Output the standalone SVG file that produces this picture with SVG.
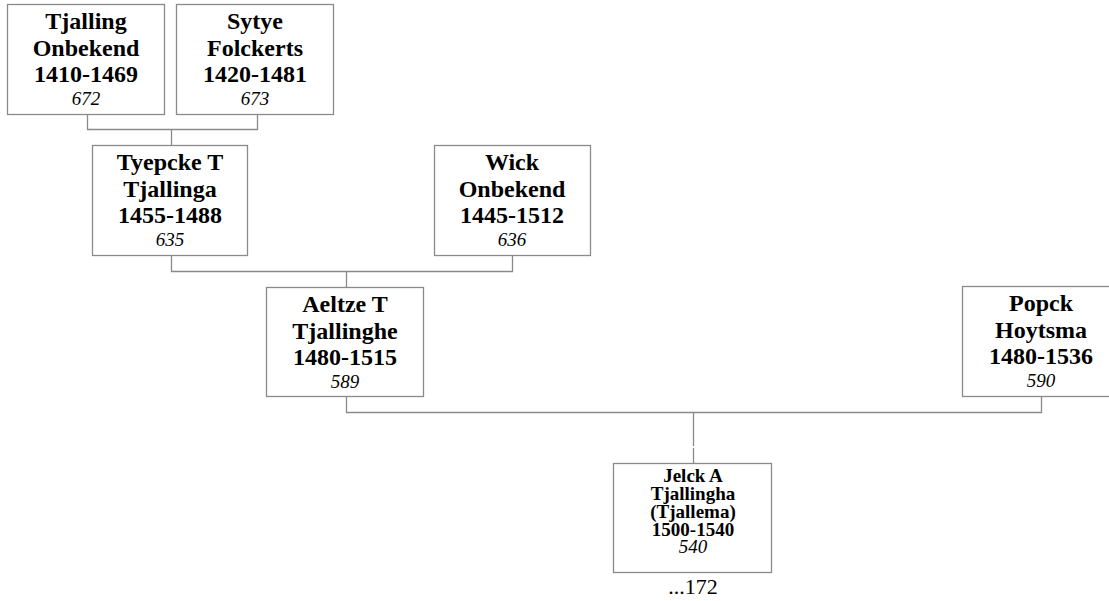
<svg xmlns="http://www.w3.org/2000/svg" width="1109" height="601" viewBox="0 0 1109 601">
<style>
.box{fill:#fff;stroke:#8a8a8a;stroke-width:1.3}
.n{font-family:"Liberation Serif",serif;font-weight:bold;font-size:24px;text-anchor:middle;fill:#000}
.i{font-family:"Liberation Serif",serif;font-style:italic;font-size:19px;text-anchor:middle;fill:#000}
.s{font-family:"Liberation Serif",serif;font-weight:bold;font-size:19px;text-anchor:middle;fill:#000}
.c{fill:none;stroke:#8a8a8a;stroke-width:1.3}
</style>
<rect width="1109" height="601" fill="#fff"/>
<g id="connectors">
<path class="c" d="M87.5 114 V129.5 H257.5 V114"/>
<path class="c" d="M171.5 129.5 V145"/>
<path class="c" d="M171.5 255 V271.5 H512.5 V255"/>
<path class="c" d="M346.5 271.5 V287"/>
<path class="c" d="M346.5 396 V412.5 H1041.5 V396"/>
<path class="c" d="M693.5 412.5 V446 M693.5 448 V463"/>
</g>
<g id="n672">
<rect class="box" x="7.5" y="4.5" width="157" height="110"/>
<text class="n" x="86" y="29">Tjalling</text>
<text class="n" x="86" y="56">Onbekend</text>
<text class="n" x="86" y="82">1410-1469</text>
<text class="i" x="86" y="105">672</text>
</g>
<g id="n673">
<rect class="box" x="176.5" y="4.5" width="157" height="110"/>
<text class="n" x="255" y="29">Sytye</text>
<text class="n" x="255" y="56">Folckerts</text>
<text class="n" x="255" y="82">1420-1481</text>
<text class="i" x="255" y="105">673</text>
</g>
<g id="n635">
<rect class="box" x="92.5" y="145.5" width="155" height="110"/>
<text class="n" x="170" y="170">Tyepcke T</text>
<text class="n" x="170" y="197">Tjallinga</text>
<text class="n" x="170" y="223">1455-1488</text>
<text class="i" x="170" y="246">635</text>
</g>
<g id="n636">
<rect class="box" x="434.5" y="145.5" width="156" height="110"/>
<text class="n" x="512" y="170">Wick</text>
<text class="n" x="512" y="197">Onbekend</text>
<text class="n" x="512" y="223">1445-1512</text>
<text class="i" x="512" y="246">636</text>
</g>
<g id="n589">
<rect class="box" x="266.5" y="287.5" width="157" height="109"/>
<text class="n" x="345" y="312">Aeltze T</text>
<text class="n" x="345" y="339">Tjallinghe</text>
<text class="n" x="345" y="365">1480-1515</text>
<text class="i" x="345" y="388">589</text>
</g>
<g id="n590">
<rect class="box" x="962.5" y="286.5" width="158" height="110"/>
<text class="n" x="1041" y="311">Popck</text>
<text class="n" x="1041" y="338">Hoytsma</text>
<text class="n" x="1041" y="364">1480-1536</text>
<text class="i" x="1041" y="387">590</text>
</g>
<g id="n540">
<rect class="box" x="613.5" y="463.5" width="158" height="109"/>
<text class="s" x="693" y="482">Jelck A</text>
<text class="s" x="693" y="500">Tjallingha</text>
<text class="s" x="693" y="518">(Tjallema)</text>
<text class="s" x="693" y="536">1500-1540</text>
<text class="i" x="693" y="553">540</text>
<text style="font-family:'Liberation Serif',serif;font-size:22px;text-anchor:middle" x="693" y="594">...172</text>
</g>
</svg>
